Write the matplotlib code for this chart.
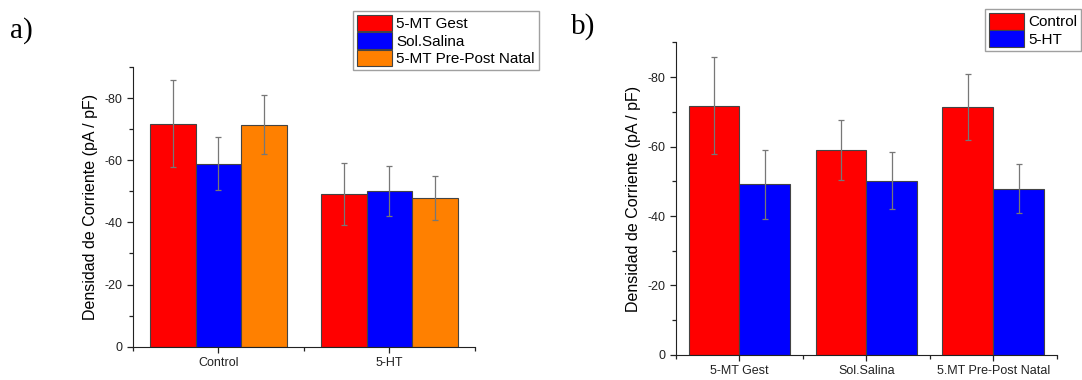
"""Current density bars: panel a) grouped by condition, panel b) grouped by treatment."""

import matplotlib

matplotlib.use("Agg")
import matplotlib.pyplot as plt
import numpy as np
from matplotlib.patches import Patch
from matplotlib.ticker import MultipleLocator

# --- data ----------------------------------------------------------------
treatments = ["5-MT Gest", "Sol.Salina", "5-MT Pre-Post Natal"]
treatment_ticks = ["5-MT Gest", "Sol.Salina", "5.MT Pre-Post Natal"]
conditions = ["Control", "5-HT"]

control_mean = [-71.7, -58.9, -71.4]
control_err = [14.0, 8.6, 9.5]
ht_mean = [-49.1, -50.2, -47.9]
ht_err = [9.9, 8.1, 7.0]

treatment_colors = ["#ff0000", "#0000ff", "#ff8000"]
condition_colors = ["#ff0000", "#0000ff"]

plt.rcParams.update(
    {
        "font.family": ["Liberation Sans", "DejaVu Sans"],
        "axes.unicode_minus": False,
        "axes.edgecolor": "#222222",
        "xtick.color": "#222222",
        "ytick.color": "#222222",
        "xtick.direction": "out",
        "ytick.direction": "out",
    }
)

ERR_KW = dict(ecolor="#777777", elinewidth=0.9, capsize=2, capthick=0.9)
EDGE = "#444444"


def style_axes(ax, n_groups):
    for side in ("top", "right"):
        ax.spines[side].set_visible(False)
    ax.set_xlim(-0.5, n_groups - 0.5)
    ax.set_ylim(0, -90)  # inverted: negative currents grow upward
    ax.yaxis.set_major_locator(MultipleLocator(20))
    ax.yaxis.set_minor_locator(MultipleLocator(10))
    ax.set_xticks(np.arange(n_groups))
    ax.set_xticks(np.arange(-0.5, n_groups, 1.0), minor=True)
    ax.tick_params(axis="both", which="major", labelsize=9, length=4, width=0.9)
    ax.tick_params(axis="both", which="minor", length=3, width=0.9)
    ax.set_ylabel("Densidad de Corriente (pA / pF)", fontsize=11.5, labelpad=5)


def legend_box(fig, labels, colors, anchor):
    handles = [Patch(facecolor=c, edgecolor=EDGE, linewidth=0.8, label=l) for l, c in zip(labels, colors)]
    leg = fig.legend(
        handles=handles,
        loc="upper left",
        bbox_to_anchor=anchor,
        fontsize=11,
        frameon=True,
        fancybox=False,
        edgecolor="#888888",
        handlelength=2.3,
        handleheight=1.3,
        handletextpad=0.3,
        labelspacing=0.05,
        borderpad=0.25,
        borderaxespad=0,
    )
    leg.get_frame().set_linewidth(1.0)


fig = plt.figure(figsize=(10.82, 3.8), dpi=100)

# --- panel a: conditions on x, treatments as series -----------------------
ax_a = fig.add_axes([0.1229, 0.0876, 0.3161, 0.736])
by_treatment_mean = np.array([control_mean, ht_mean]).T
by_treatment_err = np.array([control_err, ht_err]).T
x = np.arange(len(conditions))
w = 0.8 / len(treatments)
for i, (name, color) in enumerate(zip(treatments, treatment_colors)):
    ax_a.bar(
        x + (i - 1) * w,
        by_treatment_mean[i],
        width=w,
        color=color,
        edgecolor=EDGE,
        linewidth=0.8,
        yerr=by_treatment_err[i],
        error_kw=ERR_KW,
        label=name,
    )
style_axes(ax_a, len(conditions))
ax_a.set_xticklabels(conditions)

# --- panel b: treatments on x, conditions as series -----------------------
ax_b = fig.add_axes([0.6248, 0.0658, 0.3518, 0.823])
x = np.arange(len(treatments))
w = 0.4
for i, (mean, err, color) in enumerate(
    zip([control_mean, ht_mean], [control_err, ht_err], condition_colors)
):
    ax_b.bar(
        x + (i - 0.5) * w,
        mean,
        width=w,
        color=color,
        edgecolor=EDGE,
        linewidth=0.8,
        yerr=err,
        error_kw=ERR_KW,
        label=conditions[i],
    )
style_axes(ax_b, len(treatments))
ax_b.set_xticklabels(treatment_ticks)

legend_box(fig, treatments, treatment_colors, (0.3262, 0.971))
legend_box(fig, conditions, condition_colors, (0.9104, 0.976))

# panel letters
fig.text(0.009, 0.955, "a)", fontsize=21, family="Liberation Serif", va="top")
fig.text(0.528, 0.965, "b)", fontsize=21, family="Liberation Serif", va="top")

fig.savefig("out.png", dpi=100)
plt.close(fig)
